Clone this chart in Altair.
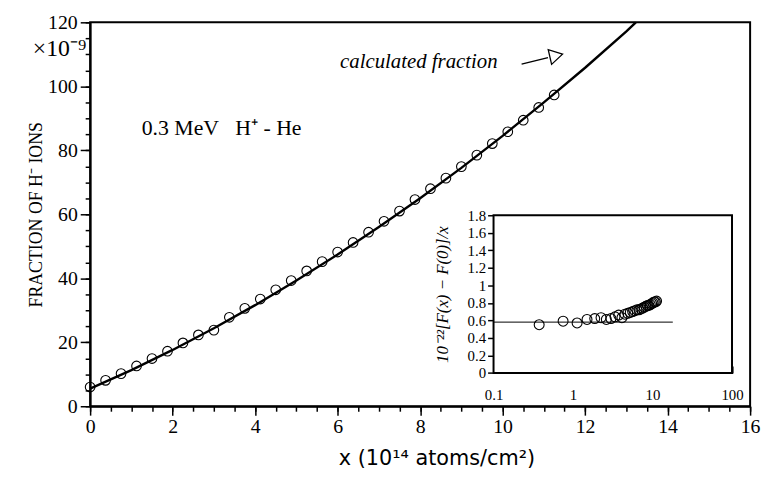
import altair as alt
import pandas as pd

# ---- main panel data ----
meas_x = [0, 0.375, 0.75, 1.125, 1.5, 1.875, 2.25, 2.625, 3.0, 3.375, 3.75, 4.125,
          4.5, 4.875, 5.25, 5.625, 6.0, 6.375, 6.75, 7.125, 7.5, 7.875, 8.25, 8.625,
          9.0, 9.375, 9.75, 10.125, 10.5, 10.875, 11.25]
meas_y = [6.0, 8.1, 10.2, 12.6, 14.9, 17.2, 19.8, 22.3, 23.8, 27.8, 30.6, 33.5,
          36.4, 39.3, 42.3, 45.2, 48.2, 51.2, 54.4, 57.8, 61.0, 64.6, 68.0, 71.3,
          74.9, 78.5, 82.1, 85.8, 89.4, 93.4, 97.3]

calc_x = [0, 1, 2, 3, 4, 5, 6, 7, 8, 9, 10, 11, 12, 13, 13.23]
calc_y = [5.5, 11.3, 17.6, 24.4, 31.6, 39.3, 47.4, 56.0, 65.0, 74.5, 84.5, 95.0, 105.8, 117.2, 120.0]

# ---- inset data ----
inset_x = [0.375, 0.75, 1.125, 1.5, 1.875, 2.25, 2.625, 3.0, 3.375, 3.75, 4.125,
           4.5, 4.875, 5.25, 5.625, 6.0, 6.375, 6.75, 7.125, 7.5, 7.875, 8.25, 8.625,
           9.0, 9.375, 9.75, 10.125, 10.5, 10.875, 11.25]
inset_y = [0.55, 0.59, 0.57, 0.61, 0.62, 0.63, 0.61, 0.62, 0.64, 0.66, 0.63,
           0.67, 0.68, 0.69, 0.70, 0.71, 0.72, 0.72, 0.73, 0.74, 0.75, 0.76, 0.77,
           0.77, 0.78, 0.79, 0.80, 0.81, 0.81, 0.82]
inset_ref_x = [0.1, 18]
inset_ref_y = [0.58, 0.58]

# ---- annotations ----
arrow_x = [10.46, 11.1]
arrow_y = [106.9, 109.0]
head_x = [11.3]
head_y = [109.6]

main_x_major = [0, 2, 4, 6, 8, 10, 12, 14, 16]
main_x_minor = [i * 0.5 for i in range(33)]
main_y_major = [0, 20, 40, 60, 80, 100, 120]
main_y_minor = list(range(0, 121, 5))
inset_y_ticks = [0, 0.2, 0.4, 0.6, 0.8, 1.0, 1.2, 1.4, 1.6, 1.8]
inset_x_labels = [0.1, 1, 10, 100]
inset_x_minor = [0.2, 0.3, 0.4, 0.5, 0.6, 0.7, 0.8, 0.9,
                 2, 3, 4, 5, 6, 7, 8, 9,
                 20, 30, 40, 50, 60, 70, 80, 90]

SERIF = "Liberation Serif"
NB = "\u00a0"

xs = alt.Scale(domain=[0, 16], nice=False, zero=False)
ys = alt.Scale(domain=[0, 120], nice=False, zero=False)

x_axis = alt.Axis(
    orient="bottom", values=main_x_major, format="d", tickSize=9, labelFlush=False,
    labelFont=SERIF, labelFontSize=20, labelPadding=2,
    title="x  (10¹⁴ atoms/cm²)", titleFont="DejaVu Sans", titleFontSize=21,
    titleFontWeight="normal", titleX=350, titleY=42, titleAlign="center",
)
y_axis = alt.Axis(
    orient="left", values=main_y_major, format="d", tickSize=10, labelFlush=False,
    labelFont=SERIF, labelFontSize=20, labelPadding=3,
    title="FRACTION OF H⁻ IONS", titleFont=SERIF, titleFontSize=18,
    titleFontWeight="normal", titlePadding=2,
)
x_minor = alt.Axis(orient="bottom", values=main_x_minor, tickSize=5, labels=False,
                   domain=False, title=None)
y_minor = alt.Axis(orient="left", values=main_y_minor, tickSize=5, labels=False,
                   domain=False, title=None)

df_meas = pd.DataFrame({"x": meas_x, "y": meas_y})
df_calc = pd.DataFrame({"x": calc_x, "y": calc_y})

pts = alt.Chart(df_meas).mark_point(shape="circle", size=95, filled=False,
                                    stroke="black", strokeWidth=1.1, opacity=1).encode(
    x=alt.X("x:Q", scale=xs, axis=x_axis),
    y=alt.Y("y:Q", scale=ys, axis=y_axis),
)
curve = alt.Chart(df_calc).mark_line(color="black", strokeWidth=2.4).encode(
    x=alt.X("x:Q", scale=xs, axis=x_minor),
    y=alt.Y("y:Q", scale=ys, axis=y_minor),
)

def txt(df, **kw):
    return alt.Chart(df).mark_text(color="black", baseline="middle", **kw).encode(
        x=alt.X("x:Q", scale=xs, axis=None), y=alt.Y("y:Q", scale=ys, axis=None), text="t:N")

df_t = pd.DataFrame({"x": [1.25], "y": [86.9], "t": [f"0.3 MeV{NB}{NB}{NB}H⁺ - He"]})
label1 = txt(df_t, font=SERIF, fontSize=22, align="left")
df_c = pd.DataFrame({"x": [6.06], "y": [107.6], "t": ["calculated fraction"]})
label2 = txt(df_c, font=SERIF, fontSize=21, fontStyle="italic", align="left")
df_m = pd.DataFrame({"x": [0], "y": [111.6], "t": ["×10⁻⁹"]})
label3 = txt(df_m, font=SERIF, fontSize=24, align="right", dx=-4)

df_a = pd.DataFrame({"x": arrow_x, "y": arrow_y})
arrow = alt.Chart(df_a).mark_line(color="black", strokeWidth=1.3).encode(
    x=alt.X("x:Q", scale=xs, axis=None), y=alt.Y("y:Q", scale=ys, axis=None))
df_h = pd.DataFrame({"x": head_x, "y": head_y})
head = alt.Chart(df_h).mark_point(shape="triangle-right", size=230, filled=True, fill="white",
                                  stroke="black", strokeWidth=1.3, angle=347, opacity=1).encode(
    x=alt.X("x:Q", scale=xs, axis=None), y=alt.Y("y:Q", scale=ys, axis=None))

main = alt.layer(curve, pts, label1, label2, label3, arrow, head).resolve_axis(
    x="independent", y="independent")

# ---- inset ----
ixs = alt.Scale(type="log", domain=[0.1, 100], range=[407.7, 648.7], nice=False)
iys = alt.Scale(domain=[0, 1.8], range=[354.3, 195], nice=False, zero=False)

df_frame = pd.DataFrame({"ix": [0.1], "ix2": [100], "iy": [0], "iy2": [1.8]})
frame = alt.Chart(df_frame).mark_rect(fill="white", stroke="black", strokeWidth=2).encode(
    x=alt.X("ix:Q", scale=ixs, axis=alt.Axis(
        orient="top", offset=-354.3, values=inset_x_labels, labels=False, domain=False,
        tickSize=7, tickWidth=1.6, title=None)),
    x2="ix2:Q",
    y=alt.Y("iy:Q", scale=iys, axis=alt.Axis(
        orient="left", offset=-407.7, values=inset_y_ticks, format="~g", tickSize=6,
        labelFont=SERIF, labelFontSize=15, labelPadding=2, labelFlush=False,
        title="10⁻²²[F(x) − F(0)]/x", titleFont=SERIF, titleFontSize=17,
        titleFontStyle="italic", titleFontWeight="normal", titlePadding=16)),
    y2="iy2:Q",
)

df_ref = pd.DataFrame({"ix": inset_ref_x, "iy": inset_ref_y})
ref = alt.Chart(df_ref).mark_line(color="black", strokeWidth=1).encode(
    x=alt.X("ix:Q", scale=ixs, axis=alt.Axis(
        orient="top", offset=-354.3, values=inset_x_minor, labels=False, domain=False,
        tickSize=4, tickWidth=1.4, title=None)),
    y=alt.Y("iy:Q", scale=iys, axis=None),
)

df_ip = pd.DataFrame({"ix": inset_x, "iy": inset_y})
ipts = alt.Chart(df_ip).mark_point(shape="circle", size=100, filled=False, stroke="black",
                                   strokeWidth=1.1, opacity=1).encode(
    x=alt.X("ix:Q", scale=ixs, axis=alt.Axis(
        orient="bottom", offset=-33.7, values=inset_x_labels, format="~g", ticks=False,
        domain=False, labelFont=SERIF, labelFontSize=15, labelPadding=15, labelFlush=False,
        title=None)),
    y=alt.Y("iy:Q", scale=iys, axis=None),
)

inset = alt.layer(frame, ref, ipts).resolve_axis(x="independent", y="independent")

chart = alt.layer(main, inset).resolve_scale(
    x="independent", y="independent"
).resolve_axis(x="independent", y="independent").properties(
    width=667, height=388,
    padding={"left": 83, "top": 12, "right": 11, "bottom": 67},
    autosize=alt.AutoSizeParams(type="none"),
).configure_axis(
    domainColor="black", domainWidth=2, tickColor="black", tickWidth=1.5,
    labelColor="black", titleColor="black", grid=False,
).configure_view(stroke="black", strokeWidth=2)

chart.save("out.html", embed_options={"renderer": "svg", "actions": False})
